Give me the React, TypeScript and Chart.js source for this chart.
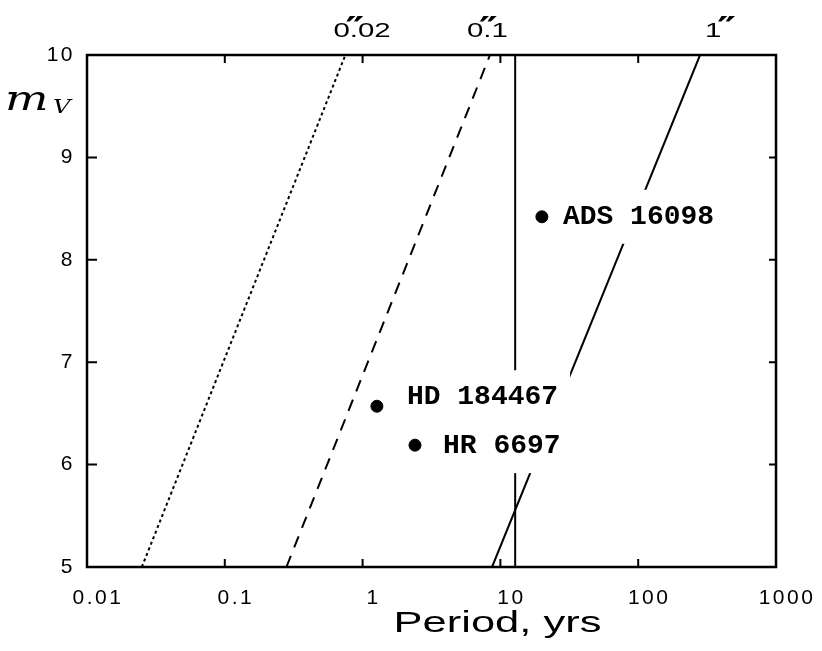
import React, { useEffect, useRef } from 'react';
import { Chart, registerables } from 'chart.js';
Chart.register(...registerables);

// ---- data ----
const xTicks = [0.01, 0.1, 1, 10, 100, 1000];
const xTickLabels = ['0.01', '0.1', '1', '10', '100', '1000'];
const yTicks = [5, 6, 7, 8, 9, 10];
const yTickLabels = ['5', '6', '7', '8', '9', '10'];

const starNames = ['ADS 16098', 'HD 184467', 'HR 6697'];
const starPeriods = [20.0, 1.27, 2.4];
const starMags = [8.42, 6.57, 6.19];

const sepMags = [5, 10];
const sep002Periods = [0.025, 0.75];
const sep01Periods = [0.28, 8.4];
const sep1Periods = [8.7, 281];
const limitPeriods = [12.8, 12.8];

const sepLabelPre = ['0', '0', '1'];
const sepLabelPost = ['.02', '.1', ''];

const xTitle = 'Period, yrs';

export default function App() {
  const ref = useRef<HTMLCanvasElement>(null);
  useEffect(() => {
    document.body.style.margin = '0';
    const canvas = ref.current!;
    const sepSets = [sep002Periods, sep01Periods, sep1Periods];
    const labelOffsets = [[21, 0], [30, -9], [28, 1]];
    const topOffsets = [-12, -23, 5];

    const overlay = {
      id: 'overlay',
      beforeDraw(chart: any) {
        chart.ctx.letterSpacing = '2.5px';
      },
      afterDatasetsDraw(chart: any) {
        const { ctx, chartArea: a, scales } = chart;
        const x = scales.x, y = scales.y;
        ctx.save();
        ctx.letterSpacing = '0px';
        // star labels with white boxes
        ctx.font = 'bold 28px "Liberation Mono"';
        ctx.textBaseline = 'middle';
        ctx.textAlign = 'left';
        const items = starNames.map((n, i) => {
          const px = x.getPixelForValue(starPeriods[i]);
          const py = y.getPixelForValue(starMags[i]);
          const tx = px + labelOffsets[i][0];
          const ty = py + labelOffsets[i][1];
          const w = ctx.measureText(n).width;
          return { n, tx, ty, w };
        });
        ctx.fillStyle = '#fff';
        items.forEach(it => ctx.fillRect(it.tx - 12, it.ty - 27, it.w + 24, 54));
        ctx.fillStyle = '#000';
        items.forEach(it => ctx.fillText(it.n, it.tx, it.ty));

        // border
        ctx.strokeStyle = '#000';
        ctx.lineWidth = 2.5;
        ctx.strokeRect(a.left, a.top, a.right - a.left, a.bottom - a.top);
        // ticks
        ctx.lineWidth = 2;
        ctx.beginPath();
        xTicks.slice(1, -1).forEach(v => {
          const px = x.getPixelForValue(v);
          ctx.moveTo(px, a.bottom); ctx.lineTo(px, a.bottom - 8);
          ctx.moveTo(px, a.top); ctx.lineTo(px, a.top + 8);
        });
        yTicks.slice(1, -1).forEach(v => {
          const py = y.getPixelForValue(v);
          ctx.moveTo(a.left, py); ctx.lineTo(a.left + 10, py);
          ctx.moveTo(a.right, py); ctx.lineTo(a.right - 7, py);
        });
        ctx.stroke();

        // top separation labels
        ctx.textBaseline = 'alphabetic';
        sepSets.forEach((s, i) => {
          const topX = x.getPixelForValue(s[1]) + topOffsets[i];
          ctx.save();
          ctx.translate(topX, a.top - 18);
          ctx.scale(1.4, 1);
          ctx.font = '21px "Liberation Sans"';
          ctx.fillText(sepLabelPre[i], 0, 0);
          const w = ctx.measureText(sepLabelPre[i]).width;
          ctx.fillText(sepLabelPost[i], w, 0);
          ctx.font = 'bold 30px "DejaVu Sans"';
          ctx.fillText('\u2033', w - 3, 1);
          ctx.restore();
        });

        // x title
        ctx.save();
        ctx.translate((a.left + a.right) / 2 + 66, a.bottom + 65);
        ctx.scale(1.45, 1);
        ctx.font = '30px "Liberation Sans"';
        ctx.textAlign = 'center';
        ctx.fillText(xTitle, 0, 0);
        ctx.restore();

        // m_V
        const by = y.getPixelForValue(9.46);
        ctx.save();
        ctx.translate(a.left - 82, by);
        ctx.scale(1.35, 1);
        ctx.font = 'italic 34px "DejaVu Serif"';
        ctx.textAlign = 'left';
        ctx.fillText('m', 0, 0);
        ctx.restore();
        ctx.save();
        ctx.translate(a.left - 34, by + 3);
        ctx.scale(1.35, 1);
        ctx.font = 'italic 18px "DejaVu Serif"';
        ctx.fillText('V', 0, 0);
        ctx.restore();

        ctx.restore();
      },
    };

    const line = (ps: number[], ms: number[], dash: number[]) => ({
      data: ps.map((p, i) => ({ x: p, y: ms[i] })),
      showLine: true,
      borderColor: '#000',
      borderWidth: 2,
      borderDash: dash,
      pointRadius: 0,
      fill: false,
    });

    const chart = new Chart(canvas, {
      type: 'scatter',
      data: {
        datasets: [
          line(sep002Periods, sepMags, [3, 3]),
          line(sep01Periods, sepMags, [12, 9]),
          line(sep1Periods, sepMags, []),
          line(limitPeriods, sepMags, []),
          {
            data: starPeriods.map((p, i) => ({ x: p, y: starMags[i] })),
            backgroundColor: '#000',
            borderColor: '#000',
            pointRadius: 6,
            showLine: false,
          } as any,
        ],
      },
      options: {
        animation: false,
        responsive: false,
        maintainAspectRatio: false,
        layout: { padding: { left: 0, right: 46, top: 55, bottom: 0 } },
        plugins: { legend: { display: false }, tooltip: { enabled: false } },
        scales: {
          x: {
            type: 'logarithmic',
            min: 0.01,
            max: 1000,
            afterBuildTicks: (s: any) => { s.ticks = xTicks.map(v => ({ value: v })); },
            afterFit: (s: any) => { s.height = 84; },
            grid: { display: false, drawTicks: false },
            border: { display: false },
            ticks: {
              callback: (v: any) => { const i = xTicks.indexOf(Number(v)); return i >= 0 ? xTickLabels[i] : ''; },
              font: { family: '"Liberation Sans"', size: 21 },
              color: '#000',
              padding: 19,
              labelOffset: 11,
              maxRotation: 0,
              autoSkip: false,
            },
          },
          y: {
            type: 'linear',
            min: 5,
            max: 10,
            afterBuildTicks: (s: any) => { s.ticks = yTicks.map(v => ({ value: v })); },
            afterFit: (s: any) => { s.width = 87; },
            grid: { display: false, drawTicks: false },
            border: { display: false },
            ticks: {
              callback: (v: any) => { const i = yTicks.indexOf(Number(v)); return i >= 0 ? yTickLabels[i] : ''; },
              font: { family: '"Liberation Sans"', size: 21 },
              color: '#000',
              padding: 12,
            },
          },
        },
      } as any,
      plugins: [overlay],
    });
    return () => chart.destroy();
  }, []);
  return (
    <div style={{ width: 822, height: 651, background: '#fff' }}>
      <canvas ref={ref} width={822} height={651} style={{ display: 'block' }} />
    </div>
  );
}
